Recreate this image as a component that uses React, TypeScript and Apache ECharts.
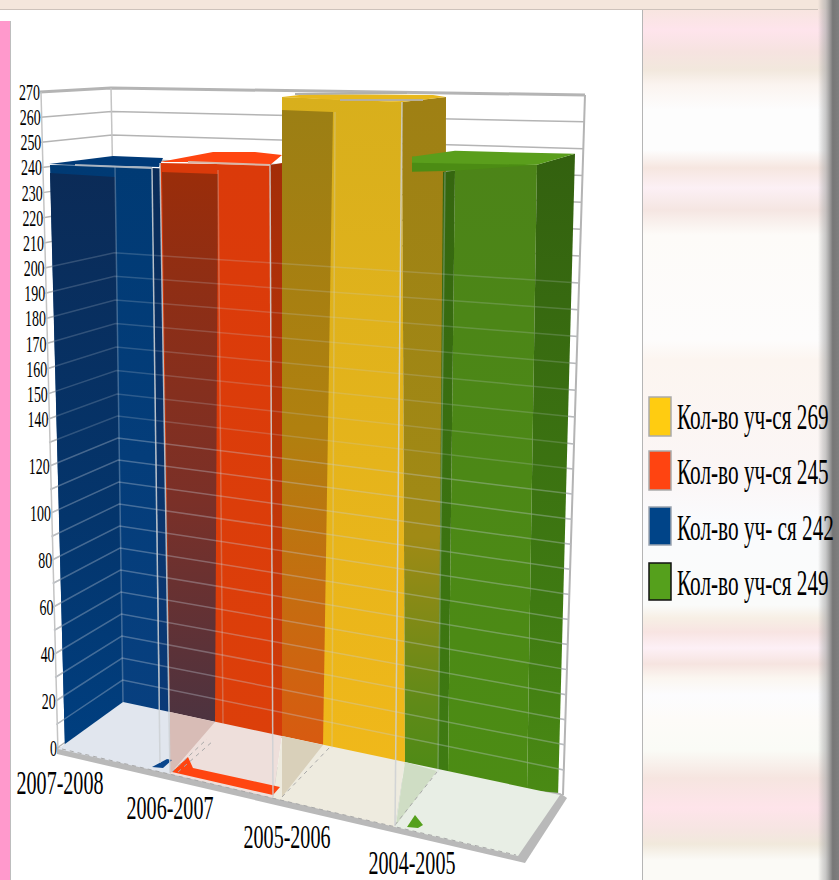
import React, { useEffect, useRef } from "react";
import * as echarts from "echarts";

// ---------- data ----------
const categories = ["2007-2008", "2006-2007", "2005-2006", "2004-2005"];
const barValues = [242, 245, 269, 249];
const legendNames = ["Кол-во уч-ся 269", "Кол-во уч-ся 245", "Кол-во уч- ся 242", "Кол-во уч-ся 249"];
const yTickLabels = [0, 20, 40, 60, 80, 100, 120, 140, 150, 160, 170, 180, 190, 200, 210, 220, 230, 240, 250, 260, 270];
const gridValues = [0, 10, 20, 30, 40, 50, 60, 70, 80, 90, 100, 110, 120, 130, 140, 150, 160, 170, 180, 190, 200, 210, 220, 230, 240, 250, 260, 270];

// ---------- styles and layout ----------
const SERIF = "Liberation Serif";
const Y_TOP = 92;
const Y_BOTTOM = 748;
const Y_MAX = 270;
const BEND = 140; // the printed scale changes slope here
const BEND_AXIS = 135.4;
const warp = (v: number) =>
  v <= BEND ? (v * BEND_AXIS) / BEND : BEND_AXIS + ((v - BEND) * (Y_MAX - BEND_AXIS)) / (Y_MAX - BEND);

const grad = (...stops: [number, string][]) =>
  new echarts.graphic.LinearGradient(0, 0, 0, 1, stops.map(([offset, color]) => ({ offset, color })));

const floorY = (x: number) => (x < 123 ? 753 - (x - 57) * 0.773 : 702 + (x - 123) * 0.2138) + 2;

type Face = { top: number[][]; bottom: number[]; fill: any };
const BAR_FACES: Face[][] = [
  [
    { top: [[50, 2.5], [115, 3.5], [152, 5.5]], bottom: [65, 122, 160], fill: grad([0, "#003a74"], [1, "#084080"]) },
    { top: [[152, 5.5], [163, 6]], bottom: [160, 170], fill: grad([0, "#0a2c58"], [1, "#0a3a78"]) },
    { top: [[50, 10.5], [115, 14.5]], bottom: [65, 122], fill: grad([0, "#0b2b57"], [0.6, "#04356c"], [1, "#003f80"]) },
    { top: [[49, 1.5], [113, -6.5], [163, -4.5], [159, 4.5], [75, 2.5]], bottom: [], fill: "#003a78" },
  ],
  [
    { top: [[160, 8], [270, 10]], bottom: [170, 273], fill: grad([0, "#db3a0a"], [1, "#dc3f0a"]) },
    { top: [[162, 17], [218, 19]], bottom: [170, 215], fill: grad([0, "#9a2d0a"], [0.6, "#7a3028"], [1, "#4c3340"]) },
    { top: [[270, 10], [282, 8]], bottom: [273, 282], fill: grad([0, "#a32d08"], [1, "#d53c0a"]) },
    { top: [[160, 7], [213, -3], [255, -3], [282, 0], [270, 10], [188, 7]], bottom: [], fill: "#ff4510" },
  ],
  [
    { top: [[282, 2.5], [402, 7.5]], bottom: [282, 405], fill: grad([0, "#d8af1c"], [1, "#f0b81a"]) },
    { top: [[282, 15.5], [333, 17.5]], bottom: [282, 323], fill: grad([0, "#9c7f14"], [0.5, "#b0800f"], [0.8, "#c86a10"], [1, "#d85a10"]) },
    { top: [[402, 7.5], [446, 2.5]], bottom: [405, 445], fill: grad([0, "#9f8014"], [0.65, "#a08a15"], [0.9, "#5f8a18"], [1, "#4e8a16"]) },
    { top: [[282, 2.5], [308, -0.5], [433, 0.5], [446, 2.5], [402, 7.5], [340, 5.5]], bottom: [], fill: "#e8b81c" },
  ],
  [
    { top: [[455, 20], [537, 20]], bottom: [448, 527], fill: grad([0, "#4c8418"], [1, "#4c8c14"]) },
    { top: [[443, 27], [455, 26]], bottom: [438, 448], fill: grad([0, "#35660f"], [1, "#3f7b12"]) },
    { top: [[537, 20], [575, 9]], bottom: [527, 558], fill: grad([0, "#33610f"], [0.7, "#3f7a12"], [1, "#4a8a14"]) },
    { top: [[412, 12], [412, 27], [455, 26], [537, 20]], bottom: [], fill: "#4c8c14" },
    { top: [[412, 12], [455, 6], [575, 9], [537, 20], [412, 18]], bottom: [], fill: "#5a9e1c" },
  ],
];

const LABEL_POS = [[60, 782], [170, 807], [287, 836], [412, 862.5]];
const FLOOR_BASE = [[57, 747], [57, 754], [525, 863], [567, 798], [560, 793]];
const FLOOR_CELLS: { pts: number[][]; fill: string }[] = [
  { pts: [[58, 749], [123, 702], [170, 712], [170, 774]], fill: "#e1e6ee" },
  { pts: [[170, 774], [170, 712], [282, 736], [273, 798]], fill: "#eedfdb" },
  { pts: [[273, 798], [282, 736], [405, 762], [395, 827]], fill: "#eeebdf" },
  { pts: [[395, 827], [405, 762], [560, 795], [518, 856]], fill: "#e8eee5" },
  { pts: [[170, 774], [170, 712], [215, 722]], fill: "#d8bcb6" },
  { pts: [[282, 797], [282, 736], [323, 745]], fill: "#d9d0ba" },
  { pts: [[405, 762], [437, 771], [396, 825]], fill: "#cfddc4" },
  { pts: [[152, 767], [167, 759], [172, 760], [163, 768]], fill: "#0a468c" },
  { pts: [[172, 772], [188, 757], [193, 768], [280, 787], [273, 795]], fill: "#ff4510" },
  { pts: [[407, 827], [415, 815], [423, 825], [418, 828]], fill: "#55a01c" },
];
const FLOOR_DASHES = [
  [[62, 749], [516, 855]],
  [[172, 772], [207, 739]],
  [[178, 772], [213, 741]],
  [[282, 797], [330, 747]],
  [[395, 825], [437, 772]],
];
const FRONT_POSTS = [
  [[152, 168], [160, 763]],
  [[160, 163], [170, 773]],
  [[270, 165], [273, 797]],
  [[402, 102], [395, 826]],
];
const BACK_POSTS = [
  [[115, 166], [123, 702]],
  [[218, 170], [223, 724]],
  [[335, 112], [332, 748]],
  [[445, 172], [438, 772]],
];
const CAP_EDGES = [
  { pts: [[75, 165], [126, 167], [152, 168]], color: "#aab4c0" },
  { pts: [[188, 162], [243, 164], [270, 165]], color: "#d9b7a8" },
  { pts: [[295, 94], [407, 93]], color: "#b0b0ac" },
  { pts: [[340, 100], [423, 100]], color: "#b8b09a" },
];
const BG_STOPS: [number, string][] = [
  [10, "#f8e5e0"], [30, "#fee4ec"], [52, "#f6e3e0"], [70, "#f2e8dd"], [85, "#fbf4f0"], [110, "#fdfdfd"], [150, "#fdfdfd"],
  [168, "#f6e6e0"], [188, "#fcf0f5"], [210, "#f5e6e2"], [235, "#fdfbf8"], [340, "#fdfcfc"], [360, "#fcf5f0"], [480, "#fbf6f6"],
  [520, "#fafbfd"], [605, "#fafbfa"], [618, "#f7efe5"], [632, "#f8e4e2"], [648, "#fdf0f6"], [664, "#f6e4e0"], [678, "#fbf6f0"],
  [695, "#fcfcfe"], [720, "#fdfbf8"], [750, "#fafbf6"], [778, "#f6e5e0"], [808, "#fee4ea"], [830, "#f6e5e2"], [844, "#f1e9dc"], [860, "#fbfaf6"],
];
const LEGEND_ROWS = [
  { y: 397, h: 39, fill: "#ffcc11", stroke: "#ababab", textY: 417 },
  { y: 451, h: 39, fill: "#ff4411", stroke: "#ababab", textY: 472 },
  { y: 507, h: 38, fill: "#004488", stroke: "#9aa4b0", textY: 528 },
  { y: 563, h: 37, fill: "#55a01c", stroke: "#111111", textY: 583 },
];

const tOf = (y: number) => (Y_BOTTOM - y) / (Y_BOTTOM - Y_TOP);
const xLeft = (t: number) => 58 - 17 * t;

const line = (points: number[][], stroke: string, lineWidth: number, extra: any = {}) => ({
  type: "polyline",
  shape: { points },
  style: { stroke, lineWidth, fill: null, ...extra },
  silent: true,
});

const gridItem = (color: (v: number) => string, width: (v: number) => number, skip: (v: number) => boolean) => (params: any, api: any) => {
  const v = gridValues[params.dataIndex];
  if (skip(v)) return { type: "group", children: [] };
  const y = api.coord([0, warp(v)])[1];
  const t = tOf(y);
  return line(
    [[xLeft(t) - 1, y], [123 - 12 * t, 702 - 614 * t], [563 + 22 * t, 795 - 700 * t]],
    color(v),
    width(v)
  );
};

const singleRow = [[0, 0]];

function buildOption() {
  return {
    animation: false,
    grid: { left: 0, width: 839, top: Y_TOP, height: Y_BOTTOM - Y_TOP },
    xAxis: { type: "value", min: 0, max: 839, show: false },
    yAxis: { type: "value", min: 0, max: Y_MAX, show: false },
    graphic: [
      { type: "rect", z: -20, shape: { x: 0, y: 0, width: 839, height: 880 }, style: { fill: new echarts.graphic.LinearGradient(0, 0, 0, 1, BG_STOPS.map(([y, color]) => ({ offset: y / 880, color }))) } },
      { type: "rect", z: -19, shape: { x: 0, y: 0, width: 839, height: 9 }, style: { fill: "#f4e6dc" } },
      { type: "rect", z: -19, shape: { x: 818, y: 0, width: 21, height: 880 }, style: { fill: new echarts.graphic.LinearGradient(0, 0, 1, 0, [
        { offset: 0, color: "rgba(150,150,150,0)" }, { offset: 0.35, color: "rgba(170,170,170,0.6)" }, { offset: 0.7, color: "#777777" }, { offset: 1, color: "#7f7f7f" },
      ]) } },
      { type: "rect", z: -18, shape: { x: 0, y: 9, width: 643, height: 871 }, style: { fill: "#ffffff" } },
      { type: "rect", z: -17, shape: { x: 0, y: 9, width: 818, height: 1 }, style: { fill: "#cdc2bb" } },
      { type: "rect", z: -17, shape: { x: 642, y: 10, width: 1, height: 870 }, style: { fill: "#b5b5b5" } },
      { type: "rect", z: -17, shape: { x: 0, y: 21, width: 10, height: 859 }, style: { fill: "#ff99cc" } },
      { type: "rect", z: -17, shape: { x: 10, y: 21, width: 1, height: 859 }, style: { fill: "#bdbdbd" } },
      ...LEGEND_ROWS.flatMap((r, i) => [
        { type: "rect", z: 10, shape: { x: 649, y: r.y, width: 22, height: r.h }, style: { fill: r.fill, stroke: r.stroke, lineWidth: 1.5 } },
        { type: "text", z: 10, x: 677, y: r.textY, scaleX: 0.59, style: { text: legendNames[i], fontFamily: SERIF, fontSize: 36, fill: "#000000", textAlign: "left", verticalAlign: "middle" } },
      ]),
    ],
    series: [
      {
        type: "custom", name: "back grid", silent: true, coordinateSystem: "cartesian2d",
        data: gridValues.map((v) => [0, warp(v)]),
        renderItem: gridItem(() => "#b4b4b4", (v) => (v === 270 ? 3 : 1.5), () => false),
      },
      {
        type: "custom", name: "walls", silent: true, coordinateSystem: "cartesian2d", data: singleRow,
        renderItem: () => ({
          type: "group",
          children: [
            line([[58, 753], [41, 92]], "#c4c4c4", 1.5),
            line([[123, 702], [111, 88]], "#c4c4c4", 1.5),
            line([[563, 795], [585, 95]], "#b4b4b4", 2),
          ],
        }),
      },
      {
        type: "custom", name: "bars", silent: true, coordinateSystem: "cartesian2d",
        data: barValues.map((v, i) => [i, warp(v)]),
        renderItem: (params: any, api: any) => {
          const y = api.coord([0, api.value(1)])[1];
          return {
            type: "group",
            children: BAR_FACES[params.dataIndex].map((f) => ({
              type: "polygon",
              shape: {
                points: [
                  ...f.top.map(([x, dy]) => [x, y + dy]),
                  ...f.bottom.slice().reverse().map((x) => [x, floorY(x)]),
                ],
              },
              style: { fill: f.fill },
            })),
          };
        },
      },
      {
        type: "custom", name: "grid over bars", silent: true, coordinateSystem: "cartesian2d",
        data: gridValues.map((v) => [0, warp(v)]),
        renderItem: gridItem((v) => `rgba(196,206,216,${v > 120 ? 0.22 : 0.34})`, () => 1.5, (v) => v > 200 || v === 0),
      },
      {
        type: "custom", name: "floor", silent: true, coordinateSystem: "cartesian2d", data: singleRow,
        renderItem: () => ({
          type: "group",
          children: [
            { type: "polygon", shape: { points: FLOOR_BASE }, style: { fill: "#b9b9b9" } },
            ...FLOOR_CELLS.map((c) => ({ type: "polygon", shape: { points: c.pts }, style: { fill: c.fill } })),
            ...FLOOR_DASHES.map((p) => line(p, "#a9a9a9", 1, { lineDash: [4, 4] })),
            ...BACK_POSTS.map((p) => line(p, "rgba(205,212,220,0.3)", 1.5)),
            ...FRONT_POSTS.map((p) => line(p, "rgba(205,208,212,0.85)", 1.5)),
            ...CAP_EDGES.map((e) => line(e.pts, e.color, 2)),
          ],
        }),
      },
      {
        type: "custom", name: "value labels", silent: true, coordinateSystem: "cartesian2d",
        data: yTickLabels.map((v) => [0, warp(v)]),
        renderItem: (params: any, api: any) => {
          const y = api.coord([0, api.value(1)])[1];
          return {
            type: "text", x: xLeft(tOf(y)) - 1, y, scaleX: 0.58,
            style: { text: String(yTickLabels[params.dataIndex]), fontFamily: SERIF, fontSize: 24, fill: "#000000", textAlign: "right", verticalAlign: "middle" },
          };
        },
      },
      {
        type: "custom", name: "category labels", silent: true, coordinateSystem: "cartesian2d",
        data: categories.map((_, i) => [i, 0]),
        renderItem: (params: any) => {
          const [x, y] = LABEL_POS[params.dataIndex];
          return {
            type: "text", x, y, scaleX: 0.59,
            style: { text: categories[params.dataIndex], fontFamily: SERIF, fontSize: 34, fill: "#000000", textAlign: "center", verticalAlign: "middle" },
          };
        },
      },
    ],
  };
}

export default function App() {
  const ref = useRef<HTMLDivElement>(null);
  useEffect(() => {
    document.body.style.margin = "0";
    const chart = echarts.init(ref.current!, undefined, { renderer: "svg" });
    chart.setOption(buildOption() as any);
    return () => chart.dispose();
  }, []);
  return <div ref={ref} style={{ width: 839, height: 880 }} />;
}
